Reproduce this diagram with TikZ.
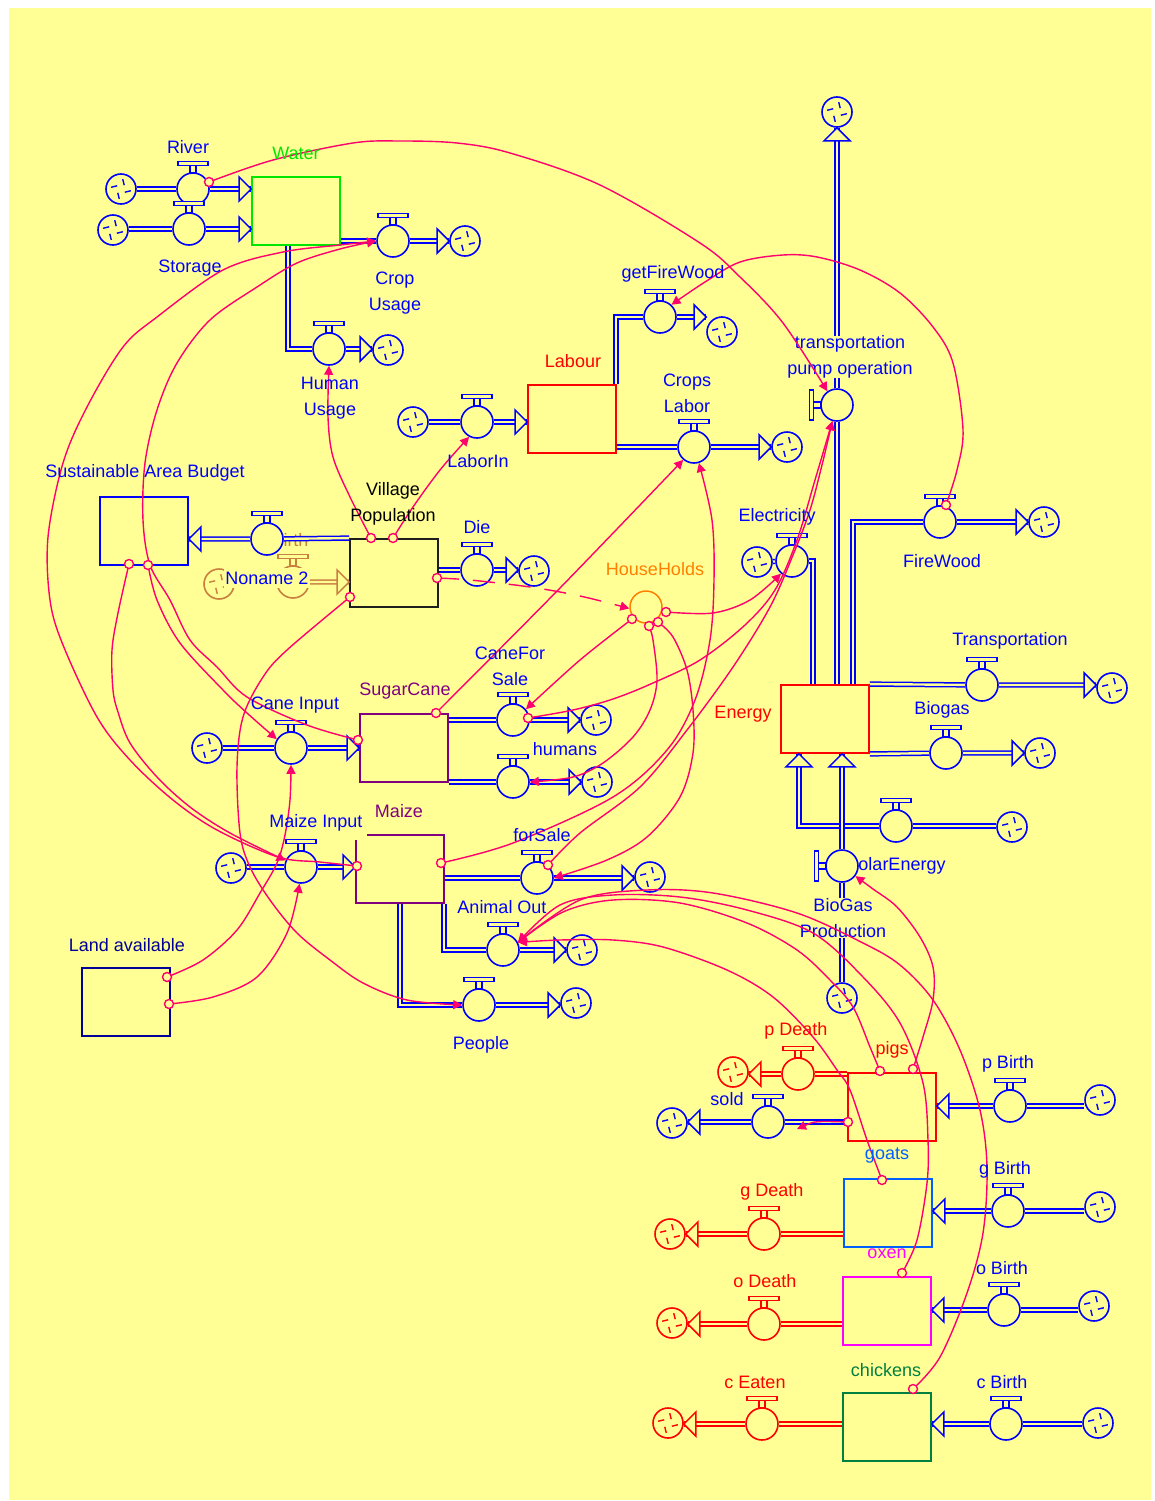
\documentclass[tikz,border=0pt]{standalone}
\usepackage{fontspec}
\setmainfont{Liberation Sans}
\usetikzlibrary{arrows.meta,calc}
\definecolor{bgc}{RGB}{255,255,150}
\definecolor{vb}{RGB}{0,0,255}
\definecolor{cn}{RGB}{255,0,110}
\definecolor{rd}{RGB}{255,0,0}
\definecolor{gr}{RGB}{0,230,0}
\definecolor{pu}{RGB}{128,0,128}
\definecolor{nv}{RGB}{0,0,153}
\definecolor{gbl}{RGB}{0,96,255}
\definecolor{mg}{RGB}{255,0,255}
\definecolor{cg}{RGB}{0,128,64}
\definecolor{og}{RGB}{255,128,0}
\definecolor{tn}{RGB}{200,128,64}
\definecolor{dk}{RGB}{30,30,30}
\pgfdeclarelayer{bgl}\pgfdeclarelayer{pipes}\pgfdeclarelayer{conn}\pgfdeclarelayer{lab}
\pgfsetlayers{bgl,pipes,main,conn,lab}
\tikzset{
 lbl/.style={font=\fontsize{18}{26}\selectfont, text=vb, inner sep=0pt, align=center},
 stock/.style={rectangle, draw=#1, line width=1.8pt, minimum width=88pt, minimum height=68pt, inner sep=0pt},
 valv/.style={circle, draw=#1, line width=1.6pt, fill=bgc, minimum size=32pt, inner sep=0pt},
 valv/.default=vb,
 cloud/.style={circle, draw=#1, line width=1.6pt, fill=bgc, minimum size=30pt, inner sep=0pt,
   path picture={\foreach \a in {50,140,230,320}{\draw[#1,line width=1.4pt,shift={(path picture bounding box.center)}] (\a:5pt) -- (\a+30:10pt);}}},
 cloud/.default=vb,
 pipe/.style={draw=#1, line width=1.5pt, double=bgc, double distance=2.4pt},
 pipe/.default=vb,
 farr/.style={draw=#1, line width=1.5pt, fill=bgc, line join=miter},
 farr/.default=vb,
 conn/.style={draw=cn, line width=1.4pt, -{Triangle[length=9pt,width=9pt]}},
 pin/.style={circle, draw=cn, line width=1.4pt, fill=bgc, minimum size=9pt, inner sep=0pt},
 aux/.style={circle, draw=og, line width=1.5pt, fill=bgc, minimum size=32pt, inner sep=0pt},
}
\newcommand\vH[4][vb]{\node[valv=#1] (#2) at (#3,#4) {};
  \draw[#1, line width=1.3pt, fill=bgc] ([xshift=-3pt]#2.north) rectangle ([xshift=3pt,yshift=7pt]#2.north);
  \draw[#1, line width=1.3pt, fill=bgc] ([xshift=-15pt,yshift=7pt]#2.north) rectangle ([xshift=15pt,yshift=11pt]#2.north);}
\newcommand\vV[4][vb]{\node[valv=#1] (#2) at (#3,#4) {};
  \draw[#1, line width=1.3pt, fill=bgc] ([yshift=-3pt]#2.west) rectangle ([xshift=-7pt,yshift=3pt]#2.west);
  \draw[#1, line width=1.3pt, fill=bgc] ([xshift=-7pt,yshift=-15pt]#2.west) rectangle ([xshift=-11pt,yshift=15pt]#2.west);}
\newcommand\cld[4][vb]{\node[cloud=#1] (#2) at (#3,#4) {};}
\newcommand\arrR[2][vb]{\draw[farr=#1] (#2) -- ++(-12,-12) -- ++(0,24) -- cycle;}
\newcommand\arrL[2][vb]{\draw[farr=#1] (#2) -- ++(12,-12) -- ++(0,24) -- cycle;}
\newcommand\arrU[2][vb]{\draw[farr=#1] (#2) -- ++(-13,13) -- ++(26,0) -- cycle;}
\begin{document}
\begin{tikzpicture}[x=1pt,y=-1pt]
\begin{pgfonlayer}{bgl}
\fill[white] (0,0) rectangle (1154,1501);
\fill[bgc] (9,8) rectangle (1151,1500);
\end{pgfonlayer}
\useasboundingbox (0,0) rectangle (1154,1501);

% ---------- stocks
\node[stock=gr] (water) at (296,211) {};
\node[stock=rd] (labour) at (572,419) {};
\node[stock=vb] (sab) at (144,531) {};
\node[stock=dk] (vp) at (394,573) {};
\node[stock=pu] (sugar) at (404,748) {};
\node[stock=pu, draw=none] (maize) at (400,869) {};
\draw[pu, line width=1.8pt] (367,835) -- (444,835) -- (444,903) -- (356,903) -- (356,840);
\node[stock=rd] (energy) at (825,719) {};
\node[stock=nv] (land) at (126,1002) {};
\node[stock=rd] (pigs) at (892,1107) {};
\node[stock=gbl] (goats) at (888,1213) {};
\node[stock=mg] (oxen) at (887,1311) {};
\node[stock=cg] (chick) at (887,1427) {};

% ---------- valves and clouds
\cld{riverC}{121}{189} \vH{river}{193}{189}
\cld{storC}{113}{230} \vH{storage}{189}{229}
\vH{cropu}{393}{241} \cld{cropuC}{465}{241}
\vH{humu}{329}{349} \cld{humuC}{388}{350}
\cld{laborinC}{413}{422} \vH{laborin}{477}{422}
\vH{gfw}{660}{317} \cld{gfwC}{722}{332}
\vH{cropl}{694}{447} \cld{croplC}{787}{447}
\vV{tpo}{837}{405} \cld{topC}{837}{112}
\cld{elecC}{757}{562} \vH{elec}{792}{561}
\vH{fw}{940}{522} \cld{fwC}{1044}{522}
\vH{trans}{982}{685} \cld{transC}{1112}{688}
\vH{bgas}{946}{753} \cld{bgasC}{1040}{753}
\vH{inflow}{896}{826} \cld{inflowC}{1012}{827}
\cld{bgpC}{842}{998}
\vH{birth}{267}{539}
\vH{die}{477}{570} \cld{dieC}{534}{571}
\node[aux] (hh) at (646,607) {};
\cld[tn]{tanC}{219}{584} \vH[tn]{tanV}{293}{582}
\cld{caneinC}{207}{748} \vH{canein}{291}{748}
\vH{cfs}{513}{720} \cld{cfsC}{596}{720}
\vH{hum}{513}{782} \cld{humC}{597}{782}
\cld{mzinC}{231}{868} \vH{mzin}{301}{867}
\vH{fs}{537}{878} \cld{fsC}{650}{877}
\vH{ao}{503}{950} \cld{aoC}{582}{950}
\vH{ppl}{479}{1005} \cld{pplC}{576}{1003}
\vH[rd]{pd}{798}{1074} \cld[rd]{pdC}{733}{1072}
\vH{sold}{768}{1122} \cld{soldC}{672}{1123}
\vH{pb}{1010}{1106} \cld{pbC}{1100}{1100}
\vH[rd]{gd}{764}{1234} \cld[rd]{gdC}{670}{1234}
\vH{gb}{1008}{1211} \cld{gbC}{1100}{1207}
\vH[rd]{od}{764}{1324} \cld[rd]{odC}{672}{1323}
\vH{ob}{1004}{1310} \cld{obC}{1094}{1306}
\vH[rd]{ce}{762}{1424} \cld[rd]{ceC}{668}{1423}
\vH{cb}{1006}{1424} \cld{cbC}{1098}{1423}

% labels hidden behind valves
\begin{pgfonlayer}{pipes}
\node[lbl, text=tn] (ghostbirth) at (290,540) {Birth};
\node[lbl] (lsolar) at (896,866) {SolarEnergy};
\end{pgfonlayer}
\vV{solar}{842}{866}

% ---------- pipes
\begin{pgfonlayer}{pipes}
\draw[pipe] (riverC.east|-river) -- (river) -- (water.west|-river);
\draw[pipe] (storC.east|-storage) -- (storage) -- (water.west|-storage);
\draw[pipe] (water.east|-cropu) -- (cropu) -- (cropuC.west|-cropu);
\draw[pipe] ([xshift=-8pt]water.south) |- (humu) -- (humuC.west|-humu);
\draw[pipe] (laborinC.east|-laborin) -- (laborin) -- (labour.west|-laborin);
\draw[pipe] ([xshift=-1pt]labour.north east) |- (gfw) -- (gfwC.west|-gfw);
\draw[pipe] (labour.east|-cropl) -- (cropl) -- (croplC.west|-cropl);
\draw[pipe] ([xshift=12pt]energy.north) -- (tpo) -- (topC.south);
\draw[pipe] ([xshift=-12pt]energy.north) |- (elec);
\draw[pipe] (elecC) -- (elec);
\draw[pipe] ([xshift=28pt]energy.north) |- (fw) -- (fwC.west|-fw);
\draw[pipe] (energy.north east) -- (trans) -- (transC.west|-trans);
\draw[pipe] (energy.south east) -- (bgas) -- (bgasC.west|-bgas);
\draw[pipe] (inflowC.west|-inflow) -- (inflow) -| ([xshift=-26pt]energy.south);
\draw[pipe] (bgpC) -- (solar) -- (energy.south-|solar);
\draw[pipe] (vp.north west) -- (birth) -- (sab.east|-birth);
\draw[pipe] (vp.east|-die) -- (die) -- (dieC.west|-die);
\draw[pipe=tn] (tanC) -- (tanV) -- (vp.west|-tanV);
\draw[pipe] (caneinC.east|-canein) -- (canein) -- (sugar.west|-canein);
\draw[pipe] (sugar.east|-cfs) -- (cfs) -- (cfsC.west|-cfs);
\draw[pipe] (sugar.east|-hum) -- (hum) -- (humC.west|-hum);
\draw[pipe] (mzinC.east|-mzin) -- (mzin) -- (maize.west|-mzin);
\draw[pipe] (maize.east|-fs) -- (fs) -- (fsC.west|-fs);
\draw[pipe] ([xshift=-1pt]maize.south east) |- (ao) -- (aoC.west|-ao);
\draw[pipe] (maize.south) |- (ppl) -- (pplC.west|-ppl);
\draw[pipe=rd] (pigs.west|-pd) -- (pd) -- (pdC.east|-pd);
\draw[pipe] (pigs.west|-sold) -- (sold) -- (soldC.east|-sold);
\draw[pipe] (pbC.west|-pb) -- (pb) -- (pigs.east|-pb);
\draw[pipe=rd] (goats.west|-gd) -- (gd) -- (gdC.east|-gd);
\draw[pipe] (gbC.west|-gb) -- (gb) -- (goats.east|-gb);
\draw[pipe=rd] (oxen.west|-od) -- (od) -- (odC.east|-od);
\draw[pipe] (obC.west|-ob) -- (ob) -- (oxen.east|-ob);
\draw[pipe=rd] (chick.west|-ce) -- (ce) -- (ceC.east|-ce);
\draw[pipe] (cbC.west|-cb) -- (cb) -- (chick.east|-cb);
\end{pgfonlayer}

% ---------- flow arrowheads
\arrR{water.west|-river} \arrR{water.west|-storage} \arrR{cropuC.west|-cropu}
\arrR{humuC.west|-humu} \arrR{labour.west|-laborin} \arrR{gfwC.west|-gfw}
\arrR{croplC.west|-cropl} \arrU{topC.south} \arrR{fwC.west|-fw}
\arrR{transC.west|-trans} \arrR{bgasC.west|-bgas} \arrU{[xshift=-26pt]energy.south}
\arrU{energy.south-|solar} \arrL{sab.east|-birth} \arrR{dieC.west|-die}
\arrR[tn]{vp.west|-tanV} \arrR{sugar.west|-canein} \arrR{cfsC.west|-cfs}
\arrR{humC.west|-hum} \arrR{maize.west|-mzin} \arrR{fsC.west|-fs}
\arrR{aoC.west|-ao} \arrR{pplC.west|-ppl}
\arrL[rd]{pdC.east|-pd} \arrL{soldC.east|-sold} \arrL{pigs.east|-pb}
\arrL[rd]{gdC.east|-gd} \arrL{goats.east|-gb} \arrL[rd]{odC.east|-od}
\arrL{oxen.east|-ob} \arrL[rd]{ceC.east|-ce} \arrL{chick.east|-cb}

% ---------- labels with background
\node[lbl, fill=bgc, inner xsep=1pt, inner ysep=4pt] (lnoname) at (267,578) {Noname 2};
\node[lbl, fill=bgc] (ltpo) at (850,357) {transportation\\pump operation};
\node[lbl, fill=bgc] (lbgp) at (843,918) {BioGas\\Production};

% ---------- connector origins
\coordinate (pRiver) at (209,182);
\coordinate (pFW) at (946,505);
\coordinate (pScL) at (358,740);
\coordinate (pScT) at (436,713);
\coordinate (pMzL) at (357,866);
\coordinate (pMzR) at (441,863);
\coordinate (pSab1) at (129,564);
\coordinate (pSab2) at (148,565);
\coordinate (pVp1) at (371,538);
\coordinate (pVp2) at (393,538);
\coordinate (pVp3) at (350,597);
\coordinate (pVp4) at (437,578);
\coordinate (pLa1) at (167,977);
\coordinate (pLa2) at (169,1004);
\coordinate (pHh1) at (632,619);
\coordinate (pHh2) at (649,626);
\coordinate (pHh3) at (658,622);
\coordinate (pHh4) at (666,612);
\coordinate (pCfs) at (528,718);
\coordinate (pFs) at (548,865);
\coordinate (pPig1) at (880,1071);
\coordinate (pPig2) at (913,1069);
\coordinate (pPig3) at (848,1122);
\coordinate (pGoat) at (882,1180);
\coordinate (pOx) at (902,1273);
\coordinate (pCh) at (913,1389);
\coordinate (soldtip) at (797,1129);

\begin{pgfonlayer}{conn}
\draw[conn] plot[smooth, tension=0.55] coordinates {(pRiver) (273,160) (353,143) (400,141) (457,143) (510,153) (600,185) (700,243) (740,277) (783,323) (tpo.125)};
\draw[conn] plot[smooth, tension=0.55] coordinates {(pFW) (957,470) (963,430) (953,363) (933,327) (900,293) (860,270) (817,257) (783,255) (740,262) (705,282) (gfw.47)};
\draw[conn] plot[smooth, tension=0.55] coordinates {(pScL) (307,725) (247,697) (217,667) (190,640) (170,600) (150,565) (143,520) (145,463) (157,410) (177,363) (210,320) (257,287) (297,263) (340,249) (cropu.west)};
\draw[conn] plot[smooth, tension=0.55] coordinates {(pMzL) (320,862) (278,857) (217,830) (173,800) (130,760) (97,717) (63,645) (50,600) (48,537) (63,463) (87,407) (123,347) (157,317) (223,270) (283,252) (340,245) (cropu.west)};
\draw[conn] plot[smooth, tension=0.55] coordinates {(pSab2) (157,600) (180,643) (223,690) (247,713) (canein.148)};
\draw[conn] plot[smooth, tension=0.55] coordinates {(pSab1) (118,613) (112,650) (113,690) (118,712) (130,743) (157,777) (190,807) (230,833) (mzin.157)};
\draw[conn] plot[smooth, tension=0.55] coordinates {(pVp3) (287,650) (263,677) (243,717) (237,767) (240,833) (250,867) (270,900) (297,933) (330,960) (363,983) (407,1000) (ppl.west)};
\draw[conn] plot[smooth, tension=0.55] coordinates {(pVp1) (350,497) (333,457) (328,417) (humu.south)};
\draw[conn] plot[smooth, tension=0.55] coordinates {(pVp2) (413,507) (440,470) (laborin.242)};
\draw[conn, dash pattern=on 22pt off 14pt] plot[smooth, tension=0.55] coordinates {(pVp4) (470,580) (530,587) (580,596) (hh.185)};
\draw[conn] plot[smooth, tension=0.55] coordinates {(pLa1) (203,960) (237,930) (260,893) (277,863) (285,835) (290,800) (canein.south)};
\draw[conn] plot[smooth, tension=0.55] coordinates {(pLa2) (213,997) (257,977) (287,933) (mzin.265)};
\draw[conn] plot[smooth, tension=0.55] coordinates {(pHh1) (580,660) (cfs.40)};
\draw[conn] plot[smooth, tension=0.55] coordinates {(pHh4) (713,613) (750,600) (elec.229)};
\draw[conn] plot[smooth, tension=0.55] coordinates {(pHh2) (653,640) (657,680) (650,710) (633,737) (603,763) (573,777) (hum.east)};
\draw[conn] plot[smooth, tension=0.55] coordinates {(pHh3) (673,637) (687,670) (693,710) (693,753) (680,797) (647,837) (607,860) (fs.east)};
\draw[conn] plot[smooth, tension=0.55] coordinates {(pCfs) (573,710) (613,699) (653,683) (700,660) (745,625) (775,590) (797,540) (815,480) (tpo.254)};
\draw[conn] plot[smooth, tension=0.55] coordinates {(pFs) (580,833) (640,787) (687,730) (733,667) (770,607) (793,555) (810,510) (822,465) (tpo.254)};
\draw[conn] plot[smooth, tension=0.55] coordinates {(pMzR) (513,843) (613,797) (667,750) (695,700) (710,640) (714,580) (712,520) (cropl.287)};
\draw[conn] plot[smooth, tension=0.55] coordinates {(pScT) (560,588) (cropl.230)};
\draw[conn] plot[smooth, tension=0.55] coordinates {(pPig1) (870,1047) (853,1007) (830,980) (797,950) (747,923) (680,903) (613,900) (563,912) (ao.27)};
\draw[conn] plot[smooth, tension=0.55] coordinates {(pPig2) (923,1037) (933,1000) (933,967) (920,937) (897,907) (873,889) (solar.323)};
\draw[conn] plot[smooth, tension=0.55] coordinates {(pGoat) (867,1140) (850,1090) (837,1070) (813,1037) (773,997) (727,970) (663,947) (613,940) (560,940) (ao.27)};
\draw[conn] plot[smooth, tension=0.55] coordinates {(pOx) (917,1240) (927,1183) (928,1140) (923,1083) (900,1023) (863,977) (813,933) (747,910) (680,897) (613,895) (560,905) (ao.27)};
\draw[conn] plot[smooth, tension=0.55] coordinates {(pCh) (940,1357) (967,1293) (983,1233) (987,1167) (980,1110) (960,1050) (933,1000) (900,965) (863,943) (797,913) (713,893) (647,890) (580,900) (ao.27)};
\draw[conn] (pPig3) .. controls (815,1121) .. (soldtip);
\foreach \p in {pRiver,pFW,pScL,pScT,pMzL,pMzR,pSab1,pSab2,pVp1,pVp2,pVp3,pVp4,pLa1,pLa2,pHh1,pHh2,pHh3,pHh4,pCfs,pFs,pPig1,pPig2,pPig3,pGoat,pOx,pCh}{\node[pin] (pin-\p) at (\p) {};}
\end{pgfonlayer}

% ---------- labels
\begin{pgfonlayer}{lab}
\node[lbl] (lriver) at (188,147) {River};
\node[lbl, text=gr] (lwater) at (296,153) {Water};
\node[lbl] (lstorage) at (190,268) {Storage};
\node[lbl] (lcropu) at (395,293) {Crop\\Usage};
\node[lbl] (lhumu) at (330,398) {Human\\Usage};
\node[lbl] (lgfw) at (673,274) {getFireWood};
\node[lbl, text=rd] (llabour) at (573,361) {Labour};
\node[lbl] (lcropl) at (687,393) {Crops\\Labor};
\node[lbl] (llaborin) at (478,461) {LaborIn};
\node[lbl] (lelec) at (777,517) {Electricity};
\node[lbl] (lfw) at (942,561) {FireWood};
\node[lbl] (lsab) at (145,473) {Sustainable Area Budget};
\node[lbl, text=black] (lvp) at (393,504) {Village\\Population};
\node[lbl] (ldie) at (477,527) {Die};
\node[lbl, text=og] (lhh) at (655,569) {HouseHolds};
\node[lbl] (lcfs) at (510,666) {CaneFor\\Sale};
\node[lbl, text=pu] (lsugar) at (405,691) {SugarCane};
\node[lbl] (lcanein) at (295,705) {Cane Input};
\node[lbl] (lhum) at (565,749) {humans};
\node[lbl, text=rd] (lenergy) at (743,714) {Energy};
\node[lbl] (ltrans) at (1010,641) {Transportation};
\node[lbl] (lbgas) at (942,710) {Biogas};
\node[lbl, text=pu] (lmaize) at (399,811) {Maize};
\node[lbl] (lmzin) at (316,823) {Maize Input};
\node[lbl] (lfs) at (542,835) {forSale};
\node[lbl] (lao) at (502,907) {Animal Out};
\node[lbl, text=nv] (lland) at (127,945) {Land available};
\node[lbl] (lppl) at (481,1045) {People};
\node[lbl, text=rd] (lpd) at (796,1031) {p Death};
\node[lbl, text=rd] (lpigs) at (892,1050) {pigs};
\node[lbl] (lpb) at (1008,1064) {p Birth};
\node[lbl] (lsold) at (727,1099) {sold};
\node[lbl, text=gbl] (lgoats) at (887,1156) {goats};
\node[lbl] (lgb) at (1005,1170) {g Birth};
\node[lbl, text=rd] (lgd) at (772,1192) {g Death};
\node[lbl, text=mg] (loxen) at (887,1254) {oxen};
\node[lbl] (lob) at (1002,1268) {o Birth};
\node[lbl, text=rd] (lod) at (765,1281) {o Death};
\node[lbl, text=cg] (lchick) at (886,1370) {chickens};
\node[lbl, text=rd] (lce) at (755,1382) {c Eaten};
\node[lbl] (lcb) at (1002,1382) {c Birth};
\end{pgfonlayer}
\end{tikzpicture}
\end{document}
